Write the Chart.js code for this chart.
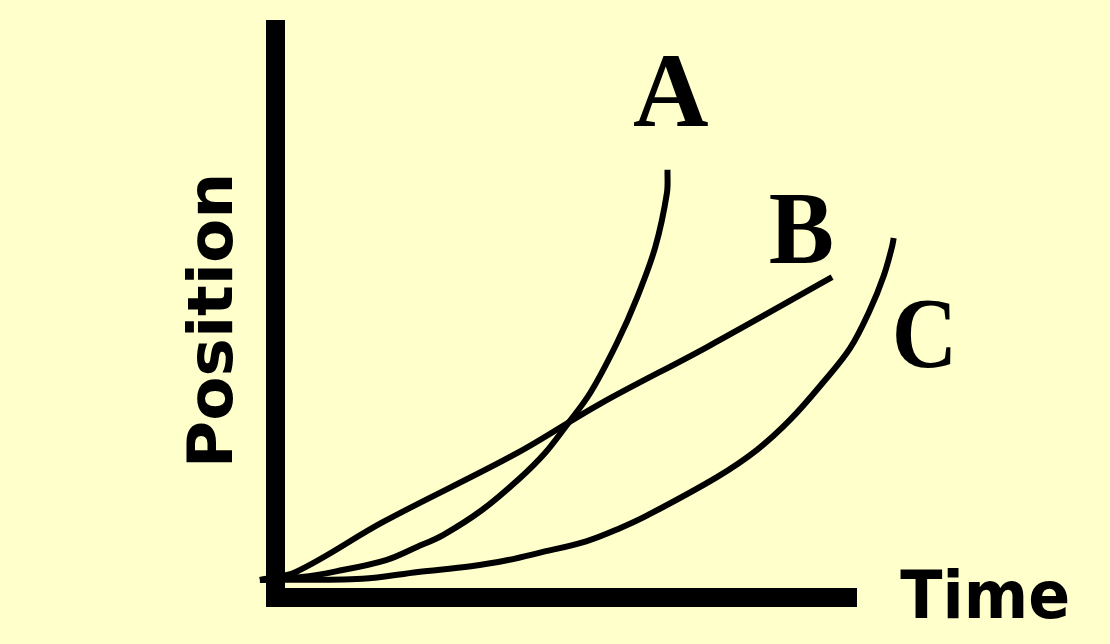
<!DOCTYPE html>
<html>
<head>
<meta charset="utf-8">
<script src="https://cdn.jsdelivr.net/npm/chart.js@4/dist/chart.umd.min.js"></script>
<style>
    html, body { margin: 0; padding: 0; background: #ffffcc; }
    #wrap { width: 1110px; height: 644px; position: relative; }
</style>
</head>
<body>
<div id="wrap"><canvas id="motionChart"></canvas></div>
<script>
// ===================== DATA =====================
// time / position samples for each curve
const aTime = [-0.25, 0.46, 1.05, 1.91, 2.44, 2.89, 3.56, 4.21, 4.64, 4.99, 5.42, 5.88, 6.23, 6.54, 6.74, 6.75];
const aPos  = [0.31, 0.36, 0.46, 0.66, 0.89, 1.10, 1.54, 2.10, 2.54, 3.00, 3.60, 4.48, 5.29, 6.17, 7.12, 7.53];

const bTime = [-0.26, 0.36, 1.86, 4.16, 5.59, 7.43, 9.58];
const bPos  = [0.31, 0.45, 1.33, 2.54, 3.41, 4.41, 5.64];

const cTime = [-0.26, 1.50, 2.46, 3.37, 4.01, 4.56, 5.35, 5.93, 6.41, 7.60, 8.29, 8.86, 9.42, 9.89, 10.23, 10.47, 10.61, 10.64];
const cPos  = [0.31, 0.33, 0.45, 0.55, 0.66, 0.79, 0.99, 1.22, 1.45, 2.12, 2.60, 3.13, 3.78, 4.39, 5.06, 5.67, 6.17, 6.33];

const curveNames = ['A', 'B', 'C'];
const xTitle = 'Time';
const yTitle = 'Position';
const axisMin = 0;
const axisMax = 10;

// ===================== HELPERS =====================
function toPoints(xs, ys) {
    return xs.map((x, i) => ({ x: x, y: ys[i] }));
}

// draw text stretched so its ink box fills w x h, centred on (cx, cy)
function drawFitted(ctx, text, cx, cy, w, h, font, rotate) {
    ctx.save();
    ctx.font = font;
    ctx.textAlign = 'left';
    ctx.textBaseline = 'alphabetic';
    const m = ctx.measureText(text);
    const tw = m.actualBoundingBoxLeft + m.actualBoundingBoxRight;
    const th = m.actualBoundingBoxAscent + m.actualBoundingBoxDescent;
    ctx.translate(cx, cy);
    if (rotate) ctx.rotate(-Math.PI / 2);
    ctx.scale(w / tw, h / th);
    ctx.fillStyle = '#000';
    ctx.fillText(text, -tw / 2 + m.actualBoundingBoxLeft, th / 2 - m.actualBoundingBoxDescent);
    ctx.restore();
}

// Labels placed in data units, sized in pixels
const labelPlugin = {
    id: 'curveLabels',
    afterDraw(chart) {
        const ctx = chart.ctx;
        const xs = chart.scales.x;
        const ys = chart.scales.y;
        const serif = 'bold 60px "Liberation Serif", "DejaVu Serif", serif';
        const sans = 'bold 60px "DejaVu Sans", "Liberation Sans", sans-serif';

        drawFitted(ctx, curveNames[0], xs.getPixelForValue(6.80), ys.getPixelForValue(8.91), 75, 69, serif);
        drawFitted(ctx, curveNames[1], xs.getPixelForValue(9.05), ys.getPixelForValue(6.49), 62, 68, serif);
        drawFitted(ctx, curveNames[2], xs.getPixelForValue(11.14), ys.getPixelForValue(4.63), 56, 67, serif);

        drawFitted(ctx, xTitle, xs.getPixelForValue(12.19), ys.getPixelForValue(0.07), 167, 51, sans);
        drawFitted(ctx, yTitle, xs.getPixelForValue(-1.144), ys.getPixelForValue(4.89), 286, 49, sans, true);
    }
};

// ===================== CHART =====================
const lineStyle = {
    borderColor: '#000',
    borderWidth: 6,
    pointRadius: 0,
    tension: 0.35,
    fill: false,
    clip: false,
    borderJoinStyle: 'round'
};

// bounds set after data limits (not as min/max) so curves running past the axis ends still get drawn
const axisStyle = {
    type: 'linear',
    bounds: 'data',
    afterDataLimits(scale) {
        scale.min = axisMin;
        scale.max = axisMax;
    },
    ticks: { display: false },
    grid: { display: false, drawTicks: false },
    border: { display: true, color: '#000', width: 19 }
};

const ctx = document.getElementById('motionChart').getContext('2d');
const motionChart = new Chart(ctx, {
    type: 'line',
    data: {
        datasets: [
            Object.assign({ label: curveNames[0], data: toPoints(aTime, aPos) }, lineStyle),
            Object.assign({ label: curveNames[1], data: toPoints(bTime, bPos) }, lineStyle),
            Object.assign({ label: curveNames[2], data: toPoints(cTime, cPos) }, lineStyle)
        ]
    },
    options: {
        responsive: true,
        maintainAspectRatio: false,
        animation: false,
        layout: {
            padding: { left: 275, right: 253.5, top: 29.5, bottom: 46.5 }
        },
        plugins: {
            legend: { display: false },
            tooltip: { enabled: false }
        },
        scales: {
            x: Object.assign({ position: 'bottom' }, axisStyle),
            y: Object.assign({ position: 'left' }, axisStyle)
        }
    },
    plugins: [labelPlugin]
});
</script>
</body>
</html>
